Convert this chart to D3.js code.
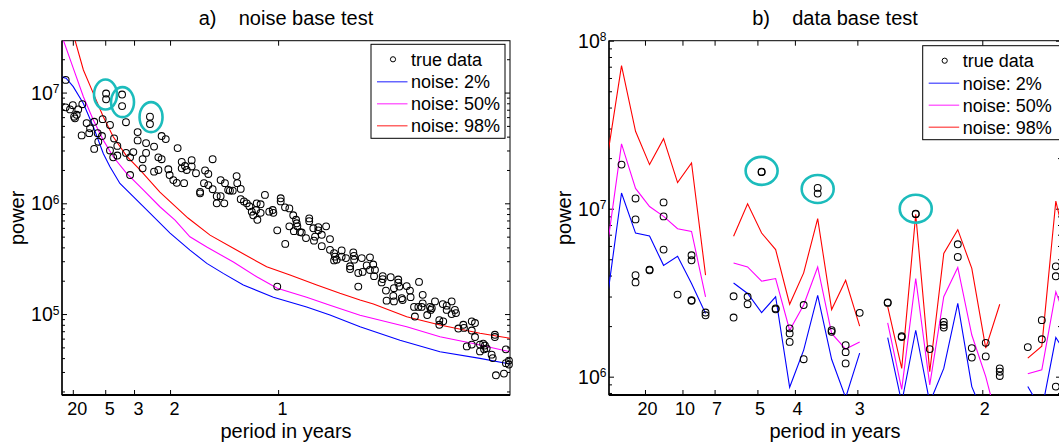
<!DOCTYPE html>
<html>
<head>
<meta charset="utf-8">
<script src="https://cdn.jsdelivr.net/npm/d3@7"></script>
<style>
  body { margin: 0; background: #fff; }
  text { font-family: "Liberation Sans", Arial, Helvetica, sans-serif; }
</style>
</head>
<body>
<div id="chart"></div>
<script>
// ---- data: panel a) noise base test (x = frequency in cycles/year) ----
const periodTicksA = [20, 5, 3, 2, 1];
const decadesA = [1e5, 1e6, 1e7];

// true data points [frequency, power]
const trueA = [
  [0.017,1.30e7],[0.204,9.8e6],[0.204,8.7e6],[0.278,9.6e6],[0.278,7.55e6],[0.407,6.05e6],[0.407,5.2e6],
  [0.017,7.35e6],[0.037,7.05e6],[0.050,7.7e6],[0.075,7.05e6],[0.094,7.85e6],[0.056,6.05e6],[0.068,6.3e6],[0.060,5.85e6],
  [0.114,5.3e6],[0.091,4.1e6],[0.126,4.3e6],[0.130,4.75e6],[0.149,3.1e6],[0.149,5.45e6],[0.165,4.3e6],[0.168,3.6e6],
  [0.188,5.75e6],[0.222,5.1e6],[0.185,4.05e6],[0.241,3.85e6],[0.256,3.3e6],[0.222,3.0e6],[0.256,2.7e6],[0.237,2.6e6],
  [0.296,5.4e6],[0.296,2.85e6],[0.315,2.6e6],[0.330,2.9e6],[0.315,1.8e6],[0.350,4.4e6],[0.350,3.7e6],[0.373,2.5e6],
  [0.389,2.85e6],[0.373,2.07e6],[0.389,3.5e6],[0.426,3.25e6],[0.446,2.6e6],[0.461,2.5e6],[0.426,1.93e6],[0.446,2.0e6],
  [0.461,4.05e6],[0.480,3.8e6],[0.535,3.15e6],[0.498,1.8e6],[0.515,1.62e6],[0.531,1.53e6],[0.554,2.07e6],[0.569,2.17e6],
  [0.577,2.0e6],[0.492,2.03e6],[0.565,1.52e6],[0.554,2.37e6],
  [0.600,2.45e6],[0.600,2.15e6],[0.620,1.87e6],[0.697,2.5e6],[0.662,1.98e6],[0.677,1.84e6],[0.657,1.52e6],[0.677,1.46e6],
  [0.639,1.27e6],[0.639,1.23e6],[0.697,1.34e6],[0.716,1.16e6],[0.716,1.0e6],[0.734,1.16e6],[0.751,1.0e6],[0.734,1.62e6],
  [0.754,1.52e6],[0.769,1.32e6],[0.777,1.30e6],[0.790,1.30e6],[0.808,1.76e6],[0.811,1.52e6],[0.827,1.35e6],[0.827,1.09e6],
  [0.842,1.04e6],[0.855,1.0e6],[0.867,9.4e5],[0.878,8.4e5],[0.885,7.8e5],[0.901,1.0e6],[0.919,9.8e5],[0.904,7.1e5],
  [0.898,8.7e5],[0.919,8.2e5],[0.939,1.19e6],[0.959,8.4e5],[0.975,8.7e5],[0.978,8.2e5],[0.996,5.7e5],[1.012,1.11e6],
  [1.012,1.04e6],[1.032,9.2e5],[1.052,9.0e5],[1.033,4.3e5],[0.996,1.77e5],[1.052,6.2e5],[1.070,7.8e5],[1.083,7.1e5],
  [1.086,6.6e5],[1.089,6.2e5],[1.073,5.6e5],[1.101,5.5e5],[1.109,5.45e5],[1.129,4.85e5],[1.144,7.3e5],[1.144,6.9e5],
  [1.163,5.95e5],[1.171,5.0e5],[1.166,4.6e5],[1.186,6.1e5],[1.186,5.7e5],[1.222,6.2e5],[1.202,5.2e5],[1.202,4.1e5],
  [1.240,4.75e5],[1.240,3.8e5],[1.259,3.55e5],[1.263,3.3e5],[1.271,3.1e5],[1.259,3.05e5],
  [1.294,3.75e5],[1.294,3.3e5],[1.314,3.2e5],[1.348,3.6e5],[1.351,3.35e5],[1.352,3.1e5],[1.333,2.7e5],[1.333,2.55e5],
  [1.371,2.35e5],[1.391,2.4e5],[1.371,1.77e5],[1.387,3.2e5],[1.410,2.75e5],[1.425,3.25e5],[1.440,2.8e5],[1.425,2.5e5],
  [1.448,2.5e5],[1.444,2.2e5],[1.484,2.2e5],[1.484,2.07e5],[1.479,1.93e5],[1.521,2.15e5],[1.556,2.05e5],[1.556,1.92e5],
  [1.561,1.77e5],[1.499,1.63e5],[1.536,1.71e5],[1.533,1.46e5],[1.502,1.32e5],[1.536,1.30e5],[1.572,1.39e5],[1.576,1.34e5],
  [1.595,1.79e5],[1.610,1.63e5],[1.613,1.42e5],[1.652,1.95e5],[1.669,1.49e5],[1.669,1.25e5],[1.629,1.16e5],[1.633,9.5e4],
  [1.649,1.16e5],[1.664,1.16e5],[1.690,9.8e4],[1.703,1.16e5],[1.711,1.13e5],[1.706,1.09e5],[1.726,1.30e5],[1.762,1.23e5],
  [1.780,1.19e5],[1.780,1.09e5],[1.803,1.30e5],[1.818,1.09e5],[1.823,1.02e5],[1.803,1.0e5],[1.746,8.8e4],[1.746,8.0e4],
  [1.764,8.6e4],[1.834,7.4e4],[1.857,8.0e4],[1.860,7.5e4],[1.896,8.6e4],[1.911,8.3e4],[1.896,7.1e4],[1.911,6.2e4],
  [1.873,5.1e4],[1.896,5.3e4],[1.934,5.3e4],[1.949,5.4e4],[1.957,5.2e4],[1.965,4.9e4],[1.934,4.6e4],[1.953,4.8e4],
  [1.988,4.3e4],[1.993,4.0e4],[2.003,6.5e4],[2.003,6.2e4],[2.008,2.8e4],[2.045,2.9e4],[2.054,4.8e4],[2.068,3.8e4],
  [2.054,3.6e4],[2.068,3.5e4]
];

const noise2A = [
  [0,1.38e7],[0.019,1.35e7],[0.052,1.13e7],[0.099,7.98e6],[0.145,4.91e6],[0.191,2.82e6],[0.222,2.14e6],
  [0.268,1.51e6],[0.330,1.15e6],[0.407,8.17e5],[0.500,5.38e5],[0.592,3.78e5],[0.670,2.87e5],[0.746,2.33e5],
  [0.839,1.83e5],[0.978,1.42e5],[1.132,1.16e5],[1.240,9.8e4],[1.379,7.67e4],[1.564,5.8e4],[1.749,4.57e4],
  [1.934,3.98e4],[2.073,3.54e4]
];
const noise50A = [
  [0,3.4e7],[0.006,2.98e7],[0.052,1.66e7],[0.099,9.16e6],[0.145,5.65e6],[0.191,3.72e6],[0.237,2.63e6],
  [0.299,1.86e6],[0.376,1.32e6],[0.453,9.31e5],[0.523,7.06e5],[0.592,4.99e5],[0.670,4.03e5],[0.793,2.95e5],
  [0.901,2.17e5],[0.996,1.71e5],[1.132,1.42e5],[1.240,1.20e5],[1.379,9.77e4],[1.595,7.67e4],[1.749,6.24e4],
  [1.903,5.43e4],[2.073,4.57e4]
];
const noise98A = [
  [0.040,4.1e7],[0.060,2.98e7],[0.099,1.60e7],[0.145,9.84e6],[0.191,6.04e6],[0.237,3.99e6],[0.299,2.67e6],
  [0.361,2.00e6],[0.453,1.26e6],[0.583,7.36e5],[0.685,5.16e5],[0.793,3.92e5],[0.947,2.67e5],[1.055,2.25e5],
  [1.179,1.83e5],[1.286,1.54e5],[1.379,1.34e5],[1.441,1.23e5],[1.595,9.46e4],[1.749,7.96e4],[1.934,6.70e4],
  [2.073,6.04e4]
];
// highlighted groups (ellipse centres) [frequency, power]
const circledA = [[0.2013,9.6e6],[0.280,8.2e6],[0.412,6.0e6]];

// ---- data: panel b) data base test ----
const periodTicksB = [20, 10, 7, 5, 4, 3, 2];
const decadesB = [1e6, 1e7, 1e8];
const freqB = [0,0.0187,0.0374,0.0561,0.0748,0.0935,0.1121,0.1308,0.1495,0.1682,0.1869,0.2056,0.2243,0.2430,
  0.2617,0.2804,0.2990,0.3177,0.3364,0.3551,0.3738,0.3925,0.4112,0.4299,0.4486,0.4673,0.4860,0.5046,0.5233,
  0.5420,0.5607,0.5794,0.5981,0.6168];
const noise98B = [2.05e7,7.1e7,2.89e7,1.83e7,2.61e7,1.43e7,1.87e7,4.02e6,null,6.85e6,1.07e7,7.16e6,5.71e6,2.70e6,
  4.15e6,8.73e6,2.51e6,3.75e6,2.00e6,null,2.61e6,1.12e6,9.25e6,1.07e6,5.41e6,7.50e6,4.41e6,1.48e6,2.70e6,null,
  1.29e6,1.52e6,1.11e7,4.9e6];
const noise50B = [6.05e6,2.43e7,1.32e7,1.03e7,9.0e6,7.6e6,7.33e6,2.99e6,null,4.75e6,4.50e6,3.70e6,3.84e6,1.89e6,
  2.67e6,4.50e6,1.81e6,1.46e6,1.61e6,null,2.09e6,8.41e5,3.84e6,8.93e5,2.99e6,4.47e6,1.77e6,1.0e6,4.8e5,null,
  1.04e6,1.10e6,3.20e6,1.9e6];
const noise2B = [2.99e6,1.24e7,7.16e6,6.87e6,4.60e6,5.21e6,3.59e6,2.38e6,null,3.61e6,3.13e6,2.41e6,2.99e6,8.65e5,
  1.44e6,3.05e6,1.27e6,7.5e5,1.38e6,null,1.71e6,7.0e5,1.89e6,7.0e5,1.12e6,2.73e6,8.73e5,5.5e5,6.3e5,null,
  8.73e5,6.3e5,1.71e6,1.26e6];
const trueBIdx = [1, 2,2,2,2, 3,3, 4,4,4, 5, 6,6,6,6, 7,7, 9,9, 10,10, 11,11, 12,12, 13,13,13, 14,14, 15,15,
  16,16, 17,17,17, 18, 20,20, 21,21, 22,22, 23, 24,24,24, 25,25, 26,26, 27,27, 28,28,28, 30, 31,31, 32,32,32];
const trueBPow = [1.83e7, 1.15e7,8.63e6,4.02e6,3.64e6, 4.34e6,4.30e6, 1.09e7,9.0e6,5.71e6, 3.08e6,
  5.28e6,4.93e6,2.85e6,2.83e6, 2.41e6,2.32e6, 3.01e6,2.25e6, 2.99e6,2.70e6, 1.66e7,1.65e7, 2.55e6,2.52e6,
  1.94e6,1.81e6,1.61e6, 2.67e6,1.27e6, 1.33e7,1.23e7, 1.89e6,1.85e6, 1.54e6,1.40e6,1.20e6, 2.40e6,
  2.77e6,2.75e6, 1.74e6,1.72e6, 9.34e6,9.28e6, 1.46e6, 2.12e6,2.03e6,1.96e6, 6.14e6,5.16e6, 1.48e6,1.30e6,
  1.59e6,1.32e6, 1.12e6,1.07e6,1.01e6, 1.50e6, 2.17e6,1.67e6, 4.54e6,3.96e6,8.73e5];
const circledB = [[11,1.68e7],[15,1.31e7],[22,1.0e7]];

const legendLabels = ["true data", "noise: 2%", "noise: 50%", "noise: 98%"];
const colors = { n2: "#0000ff", n50: "#ff00ff", n98: "#ff0000", ring: "#1cbcbc" };

// ---- drawing ----
const W = 1059, H = 443;
const svg = d3.select("#chart").append("svg")
    .attr("width", W).attr("height", H)
    .style("display", "block");
svg.append("rect").attr("width", W).attr("height", H).attr("fill", "#fff");

const FONT = "Liberation Sans, Arial, Helvetica, sans-serif";

function drawPanel(cfg) {
    const x = cfg.x, y = cfg.y;
    const [x0, x1] = x.range();
    const [yb, yt] = y.range();
    const g = svg.append("g");

    const clipId = "clip" + cfg.id;
    svg.append("clipPath").attr("id", clipId)
        .append("rect").attr("x", x0).attr("y", yt).attr("width", x1 - x0).attr("height", yb - yt);

    // minor log ticks
    const [lo, hi] = y.domain();
    const minors = [];
    for (let e = Math.floor(Math.log10(lo)); e <= Math.ceil(Math.log10(hi)); e++) {
        for (let m = 2; m <= 9; m++) {
            const v = m * Math.pow(10, e);
            if (v > lo && v < hi) minors.push(v);
        }
    }
    const majors = cfg.decades;
    const fTicks = cfg.periods.map(p => 1 / p);

    const tickStyle = sel => sel.call(a => a.select(".domain").remove())
        .call(a => a.selectAll("line").attr("stroke", "#000"));

    g.append("g").attr("transform", `translate(${x0},0)`)
        .call(d3.axisRight(y).tickValues(majors).tickSizeInner(5).tickSizeOuter(0).tickFormat(""))
        .call(tickStyle);
    g.append("g").attr("transform", `translate(${x0},0)`)
        .call(d3.axisRight(y).tickValues(minors).tickSizeInner(3).tickSizeOuter(0).tickFormat(""))
        .call(tickStyle);
    g.append("g").attr("transform", `translate(${x1},0)`)
        .call(d3.axisLeft(y).tickValues(majors).tickSizeInner(5).tickSizeOuter(0).tickFormat(""))
        .call(tickStyle);
    g.append("g").attr("transform", `translate(${x1},0)`)
        .call(d3.axisLeft(y).tickValues(minors).tickSizeInner(3).tickSizeOuter(0).tickFormat(""))
        .call(tickStyle);
    g.append("g").attr("transform", `translate(0,${yt})`)
        .call(d3.axisBottom(x).tickValues(fTicks).tickSizeInner(5).tickSizeOuter(0).tickFormat(""))
        .call(tickStyle);
    g.append("g").attr("transform", `translate(0,${yb})`)
        .call(d3.axisBottom(x).tickValues(fTicks).tickSizeInner(-5).tickSizeOuter(0).tickPadding(7)
            .tickFormat((d, i) => cfg.periods[i]))
        .call(tickStyle)
        .attr("font-size", 18).attr("font-family", FONT)
        .call(a => a.selectAll("text").attr("fill", "#000").attr("dx", cfg.labelShift));

    // y tick labels 10^n
    g.selectAll(".ylab").data(majors.filter(v => v >= lo * 0.99 && v <= hi * 1.01)).join("text")
        .attr("x", x0 - 2.5).attr("y", d => y(d) + 7)
        .attr("text-anchor", "end").attr("font-size", 19.5).attr("fill", "#000")
        .each(function (d) {
            const t = d3.select(this);
            t.append("tspan").text("10");
            t.append("tspan").attr("dy", -6.5).attr("font-size", 12).text(Math.round(Math.log10(d)));
        });

    // box
    g.append("rect").attr("x", x0).attr("y", yt).attr("width", x1 - x0).attr("height", yb - yt)
        .attr("fill", "none").attr("stroke", "#000").attr("stroke-width", 1);
    g.append("line").attr("x1", x0).attr("x2", x1).attr("y1", yb).attr("y2", yb)
        .attr("stroke", "#000").attr("stroke-width", 2);
    g.append("line").attr("x1", x0).attr("x2", x0).attr("y1", yt).attr("y2", yb)
        .attr("stroke", "#000").attr("stroke-width", 1.4);

    // series lines
    const plot = g.append("g").attr("clip-path", `url(#${clipId})`);
    const line = d3.line().defined(d => d[1] != null).x(d => x(d[0])).y(d => y(d[1]));
    cfg.series.forEach(s => {
        plot.append("path").datum(s.data).attr("d", line)
            .attr("fill", "none").attr("stroke", s.color).attr("stroke-width", 1.1);
    });

    // true data markers
    g.append("g").selectAll("circle").data(cfg.points).join("circle")
        .attr("cx", d => x(d[0])).attr("cy", d => y(d[1])).attr("r", 3.4)
        .attr("fill", "none").attr("stroke", "#000").attr("stroke-width", 1.05);

    // highlight rings
    g.append("g").selectAll("ellipse").data(cfg.rings).join("ellipse")
        .attr("cx", d => x(d[0])).attr("cy", d => y(d[1]))
        .attr("rx", cfg.ringR[0]).attr("ry", cfg.ringR[1])
        .attr("fill", "none").attr("stroke", colors.ring).attr("stroke-width", 2.6);

    // title and labels
    const cx = (x0 + x1) / 2;
    g.append("text").attr("x", cx).attr("y", 25).attr("text-anchor", "middle")
        .attr("font-size", 20).attr("fill", "#000").style("white-space", "pre").text(cfg.title);
    g.append("text").attr("x", cx).attr("y", 438).attr("text-anchor", "middle")
        .attr("font-size", 20).attr("fill", "#000").text("period in years");
    g.append("text").attr("transform", `translate(${cfg.ylabX},${(yt + yb) / 2}) rotate(-90)`)
        .attr("text-anchor", "middle").attr("font-size", 20).attr("fill", "#000").text("power");

    // legend
    const L = cfg.legend;
    const lg = g.append("g").attr("transform", `translate(${L.x},${L.y})`);
    lg.append("rect").attr("width", L.w).attr("height", 94)
        .attr("fill", "#fff").attr("stroke", "#000").attr("stroke-width", 1);
    const rows = [15, 37.5, 59.5, 81.5];
    lg.append("circle").attr("cx", 22).attr("cy", rows[0]).attr("r", 2.6)
        .attr("fill", "none").attr("stroke", "#000");
    [colors.n2, colors.n50, colors.n98].forEach((c, i) => {
        lg.append("line").attr("x1", 6).attr("x2", 36.5).attr("y1", rows[i + 1]).attr("y2", rows[i + 1])
            .attr("stroke", c).attr("stroke-width", 1.2).attr("opacity", 0.75);
    });
    legendLabels.forEach((t, i) => {
        lg.append("text").attr("x", 40).attr("y", rows[i] + 6.5).attr("font-size", 18)
            .attr("fill", "#000").text(t);
    });
}

// panel a
const xA = d3.scaleLinear().domain([0, 2.073]).range([62, 510]);
const yA = d3.scaleLog().domain([1.858e4, 2.94e7]).range([395, 40.7]);
drawPanel({
    id: "A", x: xA, y: yA, periods: periodTicksA, decades: decadesA, labelShift: 4,
    title: "a)    noise base test", ylabX: 24,
    series: [
        { data: noise2A, color: colors.n2 },
        { data: noise50A, color: colors.n50 },
        { data: noise98A, color: colors.n98 }
    ],
    points: trueA, rings: circledA, ringR: [11.5, 15],
    legend: { x: 371, y: 44.3, w: 134 }
});

// panel b
const xB = d3.scaleLinear().domain([0.002, 0.605]).range([609, 1061]);
const yB = d3.scaleLog().domain([7.78e5, 1e8]).range([395, 40.7]);
const zipB = s => freqB.map((f, i) => [f, s[i]]);
drawPanel({
    id: "B", x: xB, y: yB, periods: periodTicksB, decades: decadesB, labelShift: 2,
    title: "b)    data base test", ylabX: 571,
    series: [
        { data: zipB(noise2B), color: colors.n2 },
        { data: zipB(noise50B), color: colors.n50 },
        { data: zipB(noise98B), color: colors.n98 }
    ],
    points: trueBIdx.map((k, i) => [freqB[k], trueBPow[i]]),
    rings: circledB.map(d => [freqB[d[0]], d[1]]), ringR: [16, 14],
    legend: { x: 922.7, y: 45.7, w: 138 }
});
</script>
</body>
</html>
